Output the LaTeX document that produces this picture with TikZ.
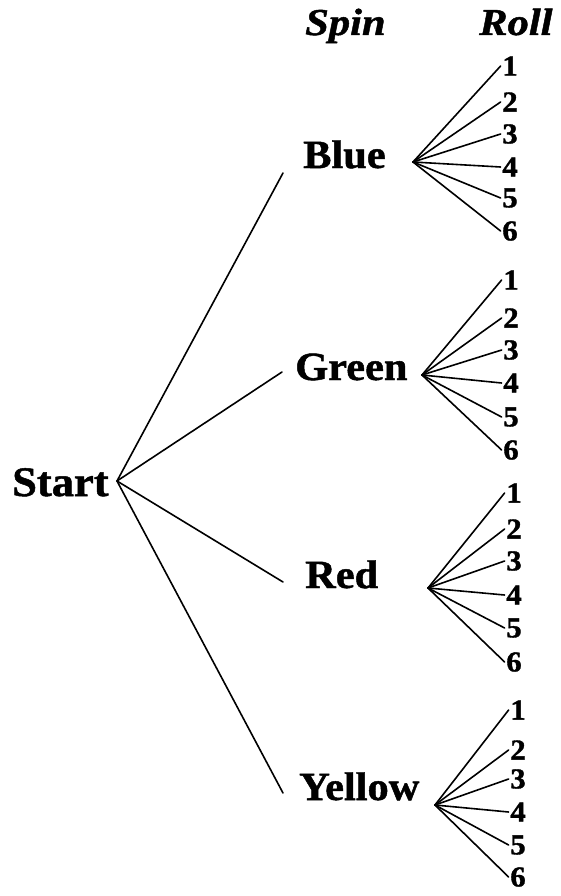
\documentclass[tikz,border=0pt]{standalone}
\usepackage{fontspec}
\newfontfamily\wfont[FakeStretch=1.06,FakeBold=1.2]{Liberation Serif}
\newfontfamily\hfont[FakeStretch=1.12,FakeBold=1.2]{Liberation Serif}
\begin{document}
\begin{tikzpicture}[x=1pt,y=-1pt,
  word/.style={anchor=base west,inner sep=0pt,font=\wfont\bfseries\fontsize{40}{40}\selectfont},
  head/.style={anchor=base west,inner sep=0pt,font=\hfont\bfseries\itshape\fontsize{38}{38}\selectfont},
  dig/.style={inner xsep=1.5pt,inner ysep=0pt,font=\wfont\bfseries\fontsize{29}{29}\selectfont},
  br/.style={line width=1.6pt,line cap=round}]
\useasboundingbox (0,0) rectangle (560,896);
\node[head] (spin) at (305,35) {Spin};
\node[head] (roll) at (479,35) {Roll};
\node[word,font=\wfont\bfseries\fontsize{42}{42}\selectfont] (start) at (12,496) {Start};
\node[word] (blue) at (303,168) {Blue};
\node[word] (green) at (295,380) {Green};
\node[word] (red) at (305,588) {Red};
\node[word] (yellow) at (299,800) {Yellow};
% branch points
\coordinate (s0) at (117,481);
\coordinate (bin) at (283,173);
\coordinate (gin) at (282,372);
\coordinate (rin) at (283,582);
\coordinate (yin) at (283,793);
\coordinate (bo) at (413,162);
\coordinate (go) at (422,375);
\coordinate (ro) at (428,588);
\coordinate (yo) at (435,805);
\foreach \c in {bin,gin,rin,yin} \draw[br] (s0) -- (\c);
% digits
\foreach \n/\y in {1/66,2/102,3/134,4/167,5/198,6/231}
  {\node[dig] (b\n) at (510,\y) {\n}; \draw[br] (bo) -- (b\n.west);}
\foreach \n/\y in {1/280,2/318,3/350,4/383,5/417,6/450}
  {\node[dig] (g\n) at (511,\y) {\n}; \draw[br] (go) -- (g\n.west);}
\foreach \n/\y in {1/493,2/529,3/561,4/595,5/628,6/662}
  {\node[dig] (r\n) at (514,\y) {\n}; \draw[br] (ro) -- (r\n.west);}
\foreach \n/\y in {1/710,2/750,3/779,4/812,5/845,6/877}
  {\node[dig] (y\n) at (518,\y) {\n}; \draw[br] (yo) -- (y\n.west);}
\end{tikzpicture}
\end{document}
